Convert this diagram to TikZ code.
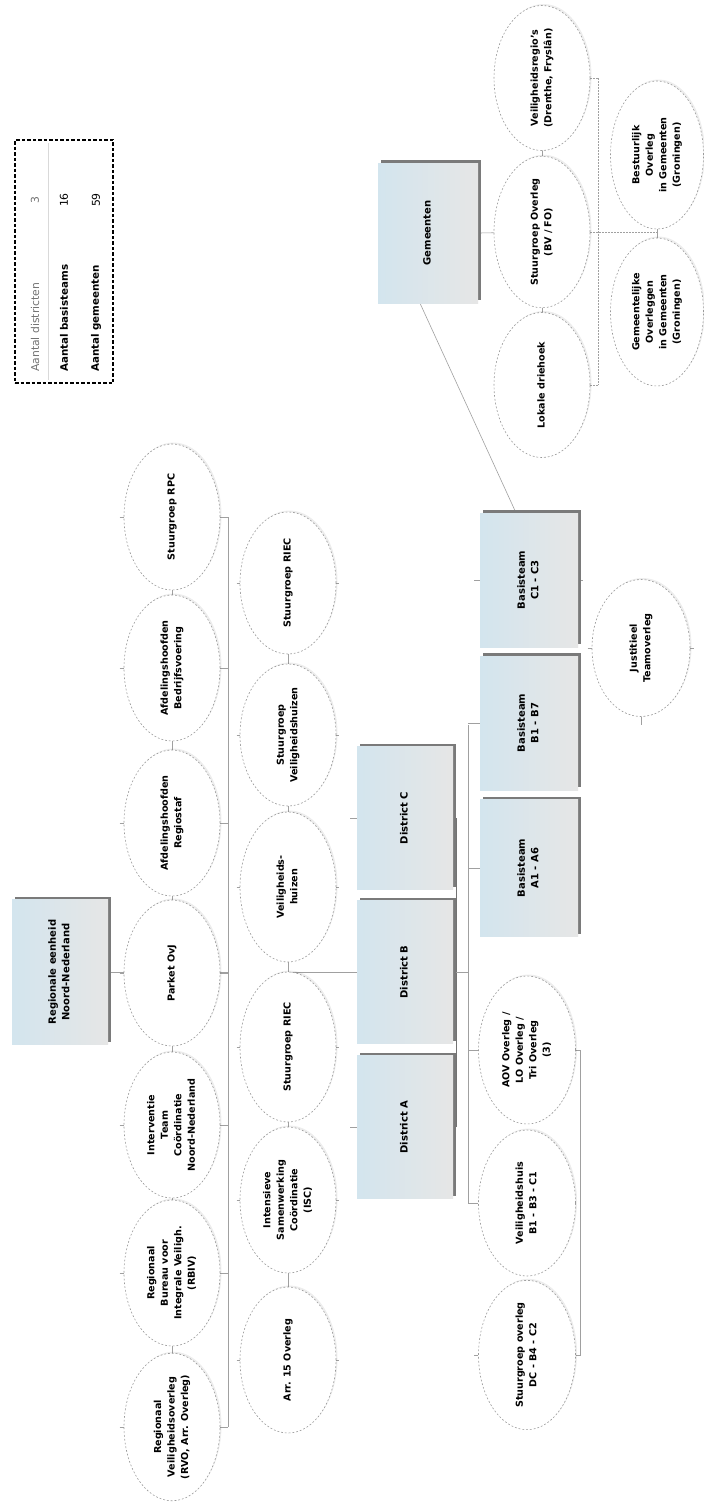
\documentclass[tikz,border=0pt]{standalone}
\usepackage{fontspec}
\setmainfont{DejaVu Sans}
\usetikzlibrary{shapes.geometric,shadows}
\pgfdeclarelayer{bg}
\pgfsetlayers{bg,main}
\newcommand{\rtxt}[1]{\rotatebox{90}{\begin{tabular}{@{}c@{}}#1\end{tabular}}}
\definecolor{boxblue}{HTML}{D3E5EE}
\definecolor{boxgray}{HTML}{E6E6E6}
\definecolor{linegray}{HTML}{A0A0A0}
\definecolor{ellgray}{HTML}{9A9A9A}
\definecolor{shadowgray}{HTML}{7A7A7A}
\begin{document}
\begin{tikzpicture}[x=1pt,y=-1pt,
  ell/.style={ellipse, draw=ellgray, dash pattern=on 1.8pt off 2pt, line width=0.6pt,
    fill=white, minimum width=96pt, minimum height=146pt, inner sep=0pt,
    drop shadow={shadow xshift=1.5pt, shadow yshift=1.5pt, fill=black, opacity=0.07},
    font=\fontsize{9.6}{13.5}\selectfont\bfseries},
  obox/.style={rectangle, left color=boxblue, right color=boxgray, draw=none,
    minimum width=96pt, minimum height=143pt, inner sep=0pt,
    drop shadow={shadow xshift=3pt, shadow yshift=3pt, fill=shadowgray, opacity=1},
    font=\fontsize{10}{13.5}\selectfont\bfseries},
  conn/.style={draw=linegray, line width=0.6pt},
  dconn/.style={draw=linegray, line width=0.6pt, dash pattern=on 2pt off 1pt},
  leg/.style={inner sep=0pt, font=\fontsize{10.8}{12}\selectfont}
]
\begin{pgfonlayer}{bg}
\fill[white] (0,0) rectangle (704,1505);
\end{pgfonlayer}
\useasboundingbox (0,0) rectangle (704,1505);

% ---------- root ----------
\node[obox, minimum height=145pt] (root) at (60,972) {\rtxt{Regionale eenheid\\Noord-Nederland}};

% ---------- row 1 (column 1) ----------
\node[ell] (c1a) at (172,517) {\rtxt{Stuurgroep RPC}};
\node[ell] (c1b) at (172,668) {\rtxt{Afdelingshoofden\\Bedrijfsvoering}};
\node[ell] (c1c) at (172,823) {\rtxt{Afdelingshoofden\\Regiostaf}};
\node[ell] (c1d) at (172,973) {\rtxt{Parket OvJ}};
\node[ell] (c1e) at (172,1125) {\rtxt{Interventie\\Team\\Coördinatie\\Noord-Nederland}};
\node[ell] (c1f) at (172,1273) {\rtxt{Regionaal\\Bureau voor\\Integrale Veiligh.\\(RBIV)}};
\node[ell] (c1g) at (172,1427) {\rtxt{Regionaal\\Veiligheidsoverleg\\(RVO, Arr. Overleg)}};

% ---------- row 2 (column 2) ----------
\node[ell, minimum height=142pt] (c2a) at (288,583) {\rtxt{Stuurgroep RIEC}};
\node[ell, minimum height=142pt] (c2b) at (288,735) {\rtxt{Stuurgroep\\Veiligheidshuizen}};
\node[ell, minimum height=150pt] (c2c) at (288,887) {\rtxt{Veiligheids-\\huizen}};
\node[ell, minimum height=150pt] (c2d) at (288,1047) {\rtxt{Stuurgroep RIEC}};
\node[ell, minimum height=146pt] (c2e) at (288,1200) {\rtxt{Intensieve\\Samenwerking\\Coördinatie\\(ISC)}};
\node[ell, minimum height=146pt] (c2f) at (288,1360) {\rtxt{Arr. 15 Overleg}};

% ---------- districts ----------
\node[obox] (dC) at (405,818) {\rtxt{District C}};
\node[obox] (dB) at (405,972) {\rtxt{District B}};
\node[obox] (dA) at (405,1127) {\rtxt{District A}};

% ---------- basisteams ----------
\node[obox, minimum width=98pt, minimum height=134pt] (bC) at (529,580) {\rtxt{Basisteam\\C1 - C3}};
\node[obox, minimum width=98pt, minimum height=134pt] (bB) at (529,723) {\rtxt{Basisteam\\B1 - B7}};
\node[obox, minimum width=98pt, minimum height=137pt] (bA) at (529,868) {\rtxt{Basisteam\\A1 - A6}};

\node[ell, minimum width=98pt, minimum height=137pt] (je) at (641,648) {\rtxt{Justitieel\\Teamoverleg}};

\node[ell, minimum width=97pt, minimum height=148pt] (t1) at (527,1050) {\rtxt{AOV Overleg /\\LO Overleg /\\Tri Overleg\\(3)}};
\node[ell, minimum width=97pt, minimum height=146pt] (t2) at (527,1203) {\rtxt{Veiligheidshuis\\B1 - B3 - C1}};
\node[ell, minimum width=97pt, minimum height=144pt] (t3) at (527,1355) {\rtxt{Stuurgroep overleg\\DC - B4 - C2}};

% ---------- gemeenten ----------
\node[obox, minimum width=100pt, minimum height=140pt] (gem) at (428,233) {\rtxt{Gemeenten}};
\node[ell, minimum width=96pt, minimum height=145pt] (g1) at (542,78) {\rtxt{Veiligheidsregio's\\(Drenthe, Fryslân)}};
\node[ell, minimum width=96pt, minimum height=145pt] (g2) at (542,232) {\rtxt{Stuurgroep Overleg\\(BV / FO)}};
\node[ell, minimum width=96pt, minimum height=145pt] (g3) at (542,385) {\rtxt{Lokale driehoek}};
\node[ell, minimum width=93pt, minimum height=148pt] (h1) at (657,155) {\rtxt{Bestuurlijk\\Overleg\\in Gemeenten\\(Groningen)}};
\node[ell, minimum width=93pt, minimum height=148pt] (h2) at (657,312) {\rtxt{Gemeentelijke\\Overleggen\\in Gemeenten\\(Groningen)}};

% ---------- legend ----------
\node[draw=black, line width=1.1pt, dash pattern=on 3.5pt off 2pt, minimum width=98pt, minimum height=243pt, inner sep=0pt] (legend) at (64,261.5) {};
\coordinate (ls1) at (48,143);
\coordinate (ls2) at (48,380);
\draw[draw=black!15, line width=0.6pt] (ls1) -- (ls2);
\node[leg, anchor=south, text=black!55] (l1) at (35,372) {\rotatebox{90}{Aantal districten}};
\node[leg, anchor=south, font=\fontsize{10.3}{12}\selectfont\bfseries] (l2) at (64,372) {\rotatebox{90}{Aantal basisteams}};
\node[leg, anchor=south, font=\fontsize{10.3}{12}\selectfont\bfseries] (l3) at (96,372) {\rotatebox{90}{Aantal gemeenten}};
\node[leg, text=black!55] (n1) at (35,200) {\rotatebox{90}{3}};
\node[leg] (n2) at (64,200) {\rotatebox{90}{16}};
\node[leg] (n3) at (96,200) {\rotatebox{90}{59}};

% ---------- connectors (background) ----------
\coordinate (b1t) at (228,517);
\coordinate (b1b) at (228,1427);
\coordinate (r1) at (468,725);
\coordinate (r2) at (468,1203);
\coordinate (s1) at (580,1050);
\coordinate (s2) at (580,1355);
\coordinate (gb1) at (598,78);
\coordinate (gb2) at (598,385);
\coordinate (gj) at (657,232);
\begin{pgfonlayer}{bg}
  % root to row 1 bus, row 2 to district B
  \draw[conn] (root.east) -- (root -| b1t);
  \draw[conn] (dB -| c2c.center) -- (dB.west);
  % row 1
  \draw[conn] (c1a.center) -- (c1g.center);
  \draw[conn] (b1t) -- (b1b);
  \foreach \n in {c1a,c1b,c1c,c1d,c1e,c1f,c1g}{
    \draw[conn] ([xshift=-4pt]\n.west) -- (\n -| b1t);
  }
  % row 2
  \draw[conn] (c2a.center) -- (c2f.center);
  \foreach \n in {c2a,c2b,c2c,c2d,c2e,c2f}{
    \draw[conn] ([xshift=-3pt]\n.west) -- ([xshift=3pt]\n.east);
  }
  % districts
  \draw[conn] (dC.west) -- ++(-7,0);
  \draw[conn] (dA.west) -- ++(-7,0);
  \draw[draw=black!55, line width=1.2pt] ([xshift=3pt]dC.east) -- ([xshift=3pt]dA.east);
  \draw[conn] (dB.east) -- (dB -| r1);
  \draw[conn] (r1) -- (r2);
  % basisteams
  \draw[conn] (bB.west) -- (bB -| r1);
  \draw[conn] (bA.west) -- (bA -| r1);
  \draw[conn] (bC.west) -- ++(-6,0);
  \draw[conn] (bC.east) -- ++(5,0);
  \draw[conn] ([xshift=-4pt]je.west) -- ([xshift=4pt]je.east);
  \draw[conn] (je.south) -- ++(0,8);
  \draw[conn] (t1) -- (t1 -| r1);
  \draw[conn] (t2) -- (t2 -| r1);
  \draw[conn] (t3.west) -- ++(-4,0);
  \draw[conn] (t1) -- (s1) -- (s2) -- (t3);
  % gemeenten
  \draw[conn] ([xshift=-8pt]gem.south) -- ([xshift=-13pt]bC.north);
  \draw[conn] (gem.east) -- (g2);
  \draw[conn] (g1.center) -- (g3.center);
  \draw[dconn] (gb1) -- (gb2);
  \draw[dconn] (g1) -- (gb1);
  \draw[dconn] (g3) -- (gb2);
  \draw[dconn] (g2) -- (gj);
  \draw[conn] (h1.center) -- (h2.center);
\end{pgfonlayer}
\end{tikzpicture}
\end{document}
